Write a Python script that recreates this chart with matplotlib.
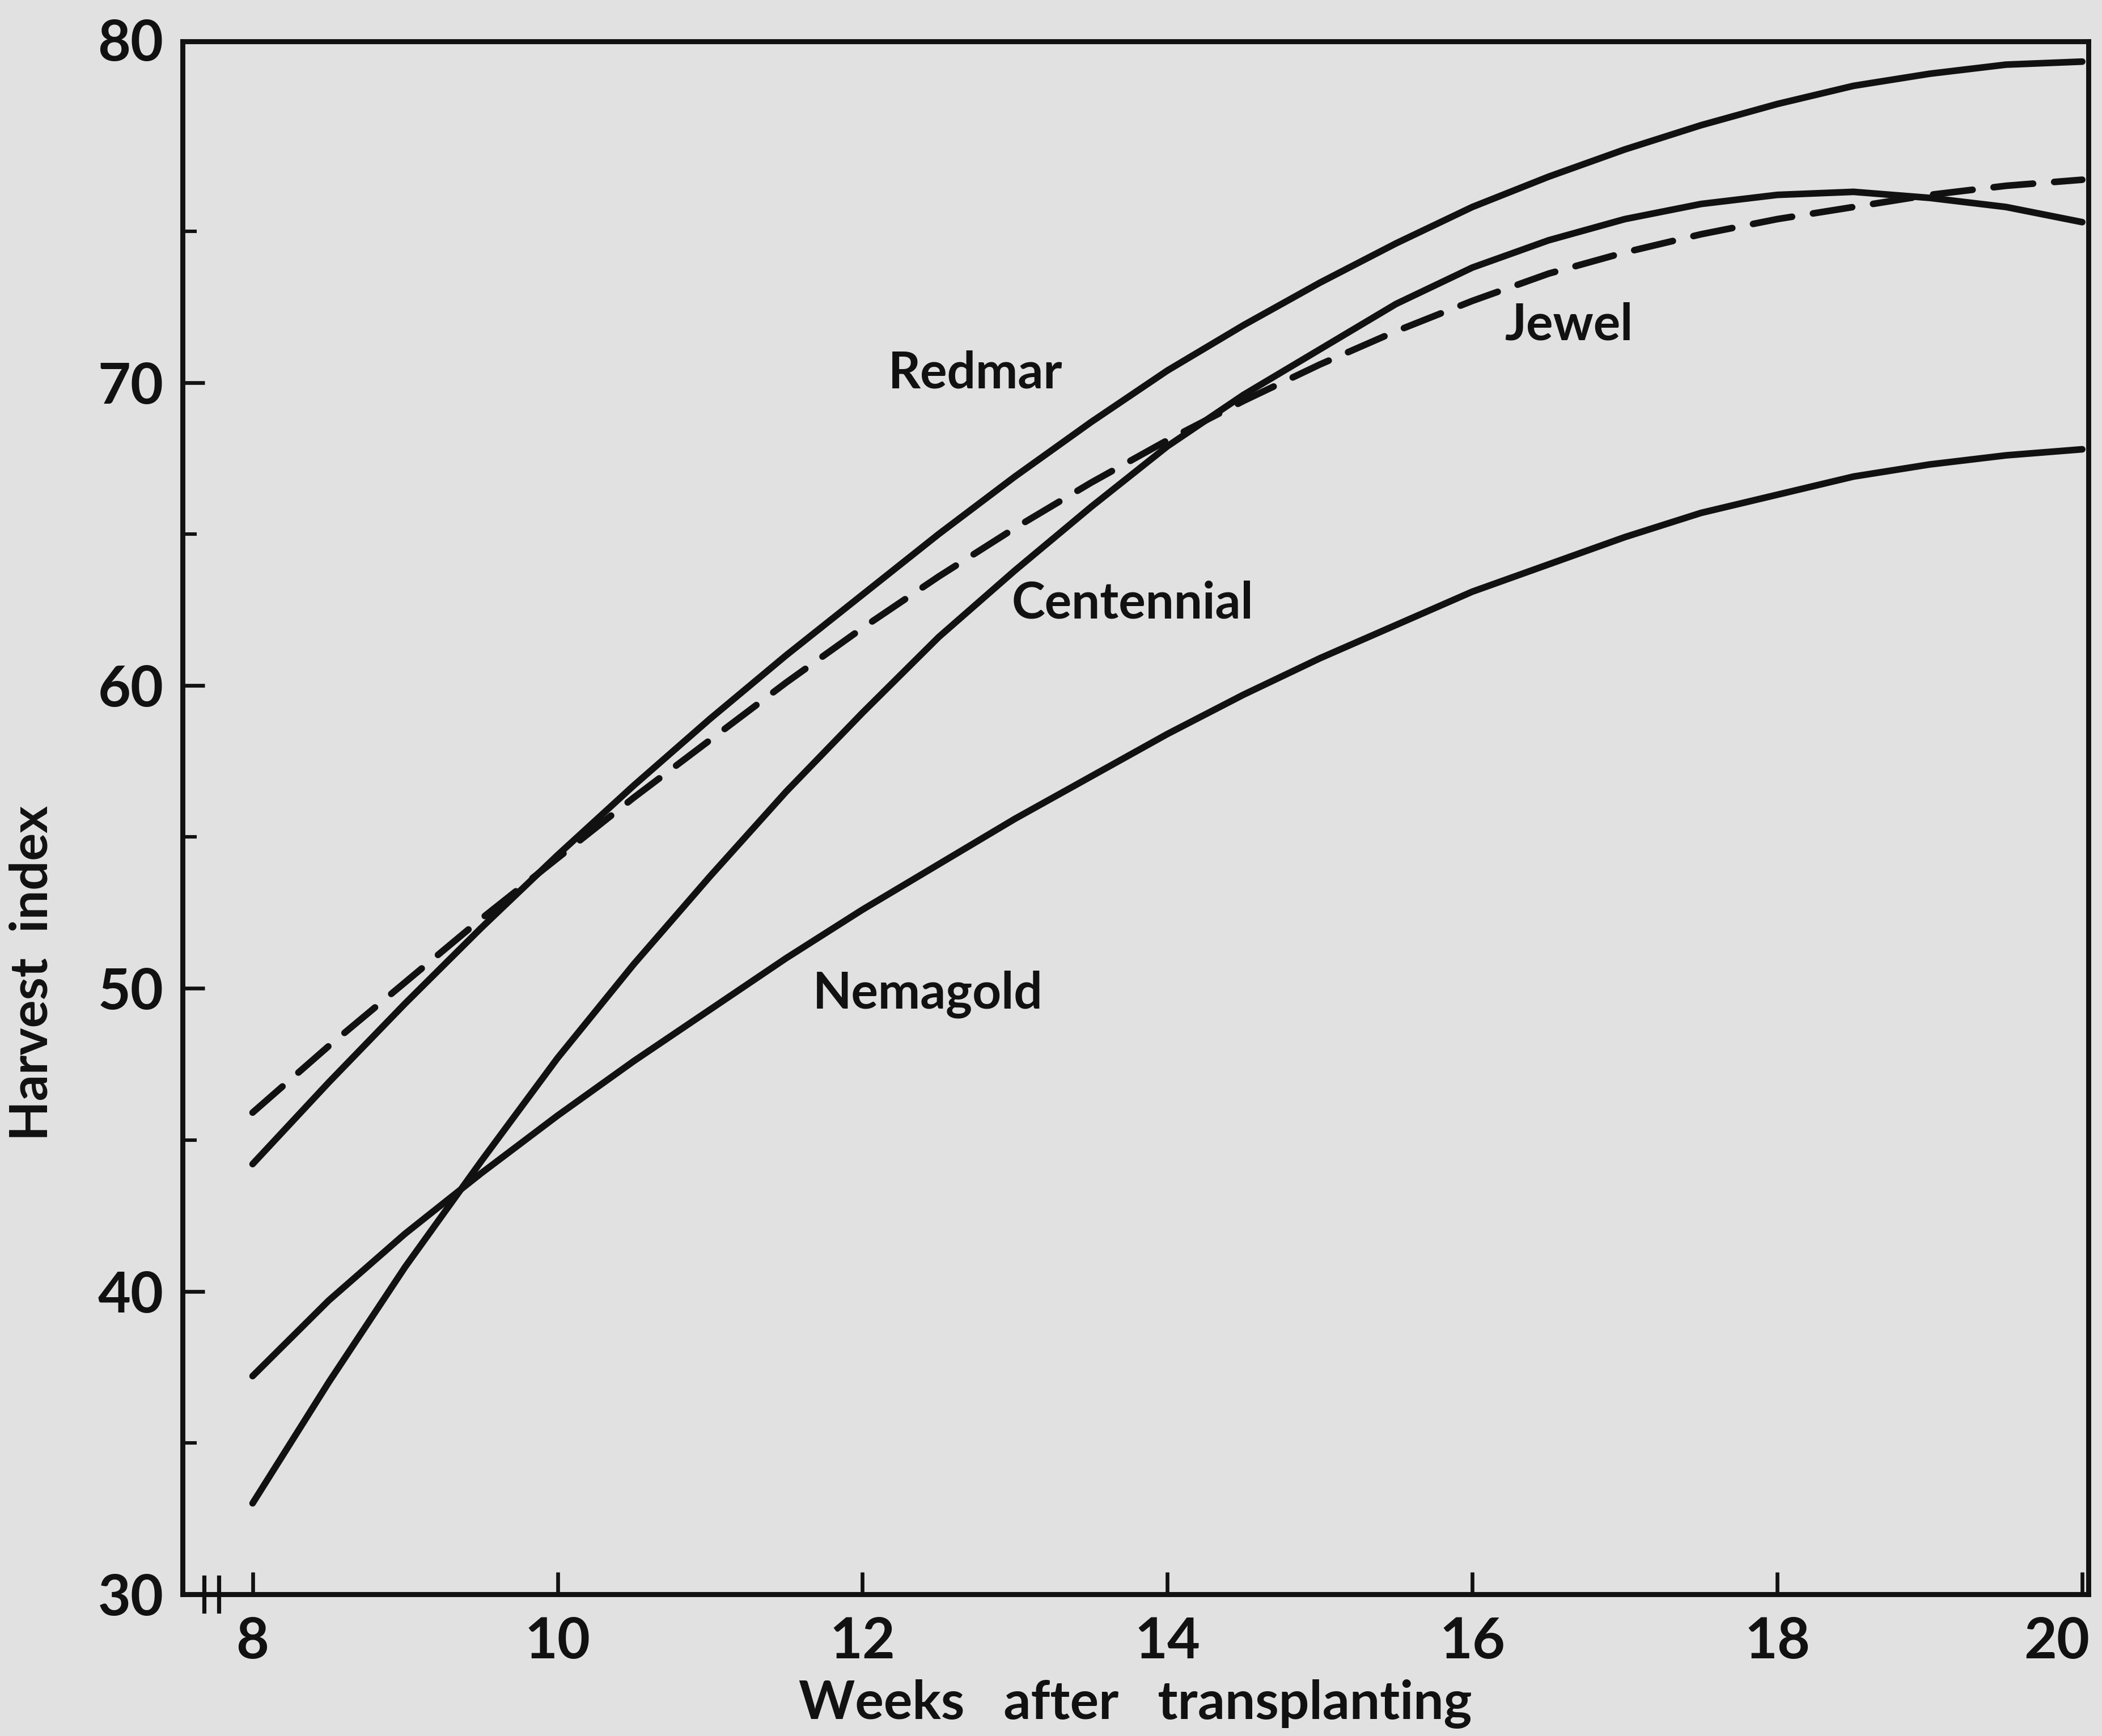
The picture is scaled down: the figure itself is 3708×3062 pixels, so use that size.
import matplotlib.pyplot as plt
from matplotlib.ticker import FixedLocator
import matplotlib.transforms as mtransforms

# weeks after transplanting (read every half week)
weeks = [8, 8.5, 9, 9.5, 10, 10.5, 11, 11.5, 12, 12.5, 13, 13.5, 14,
         14.5, 15, 15.5, 16, 16.5, 17, 17.5, 18, 18.5, 19, 19.5, 20]

redmar = [44.2, 46.9, 49.5, 52.0, 54.4, 56.7, 58.9, 61.0, 63.0, 65.0, 66.9, 68.7, 70.4,
          71.9, 73.3, 74.6, 75.8, 76.8, 77.7, 78.5, 79.2, 79.8, 80.2, 80.5, 80.6]
jewel = [45.9, 48.1, 50.2, 52.3, 54.3, 56.3, 58.2, 60.1, 61.9, 63.6, 65.2, 66.7, 68.1,
         69.4, 70.6, 71.7, 72.7, 73.6, 74.3, 74.9, 75.4, 75.8, 76.2, 76.5, 76.7]
centennial = [33.0, 37.0, 40.8, 44.3, 47.7, 50.8, 53.7, 56.5, 59.1, 61.6, 63.8, 65.9, 67.9,
              69.6, 71.1, 72.6, 73.8, 74.7, 75.4, 75.9, 76.2, 76.3, 76.1, 75.8, 75.3]
nemagold = [37.2, 39.7, 41.9, 43.9, 45.8, 47.6, 49.3, 51.0, 52.6, 54.1, 55.6, 57.0, 58.4,
            59.7, 60.9, 62.0, 63.1, 64.0, 64.9, 65.7, 66.3, 66.9, 67.3, 67.6, 67.8]

x_ticks = [8, 10, 12, 14, 16, 18, 20]
y_ticks = [30, 40, 50, 60, 70]
y_minor = [35, 45, 55, 65, 75]

# label text and where it sits (data coords)
labels = ['Redmar', 'Jewel', 'Centennial', 'Nemagold']
label_x = [12.74, 16.63, 13.77, 12.43]
label_y = [70.3, 71.9, 62.7, 49.8]

BG = '#e1e1e1'
INK = '#111111'

plt.rcParams['font.family'] = ['Lato', 'DejaVu Sans']

fig = plt.figure(figsize=(18.54, 15.31), dpi=200, facecolor=BG)
ax = fig.add_axes([0.0868, 0.0817, 0.9067, 0.8945])
ax.set_facecolor(BG)

lw = 4.2
ax.plot(weeks, redmar, color=INK, lw=lw, solid_capstyle='round', solid_joinstyle='round')
ax.plot(weeks, centennial, color=INK, lw=lw, solid_capstyle='round', solid_joinstyle='round')
ax.plot(weeks, nemagold, color=INK, lw=lw, solid_capstyle='round', solid_joinstyle='round')
ax.plot(weeks, jewel, color=INK, lw=lw, dashes=(6, 3.2), dash_capstyle='round')

for txt, lx, ly in zip(labels, label_x, label_y):
    ax.text(lx, ly, txt, ha='center', va='center', fontsize=32,
            fontweight='bold', color=INK)

ax.set_xlim(7.54, 20.04)
ax.set_ylim(30, 81.27)

ax.set_xticks(x_ticks)
ax.set_xticklabels([str(t) for t in x_ticks])
ax.set_yticks(y_ticks)
ax.set_yticklabels([str(t) for t in y_ticks])
ax.yaxis.set_minor_locator(FixedLocator(y_minor))

ax.tick_params(axis='both', which='major', direction='in', length=14, width=2.4,
               color=INK, labelsize=36, labelcolor=INK)
ax.tick_params(axis='y', which='major', pad=12)
ax.tick_params(axis='x', which='major', pad=14)
ax.tick_params(axis='y', which='minor', direction='in', length=9, width=2.2, color=INK)
for lab in ax.get_xticklabels() + ax.get_yticklabels():
    lab.set_fontweight('bold')

# last x label is pulled in a bit so it stays on the page
last = ax.get_xticklabels()[-1]
last.set_transform(last.get_transform() +
                   mtransforms.ScaledTranslation(-16 / 72, 0, fig.dpi_scale_trans))

# the "80" label sits on the top corner of the frame in the original
ax.annotate('80', xy=(0, 1), xycoords='axes fraction', xytext=(-12, -2),
            textcoords='offset points', ha='right', va='center',
            fontsize=36, fontweight='bold', color=INK)

for sp in ax.spines.values():
    sp.set_linewidth(3.2)
    sp.set_color(INK)

# axis break marks on the x axis
trans = mtransforms.blended_transform_factory(ax.transData, ax.transAxes)
for bx in [7.68, 7.78]:
    ax.plot([bx, bx], [-0.011, 0.011], transform=trans, color=INK, lw=2.6, clip_on=False)

ax.set_xlabel('Weeks   after   transplanting', fontsize=34, fontweight='bold', color=INK)
ax.xaxis.set_label_coords(0.5, -0.055)
ax.set_ylabel('Harvest  index', fontsize=33, fontweight='bold', color=INK)
ax.yaxis.set_label_coords(-0.066, 0.40)

fig.savefig('out.png', dpi=200, facecolor=BG)
plt.close(fig)
